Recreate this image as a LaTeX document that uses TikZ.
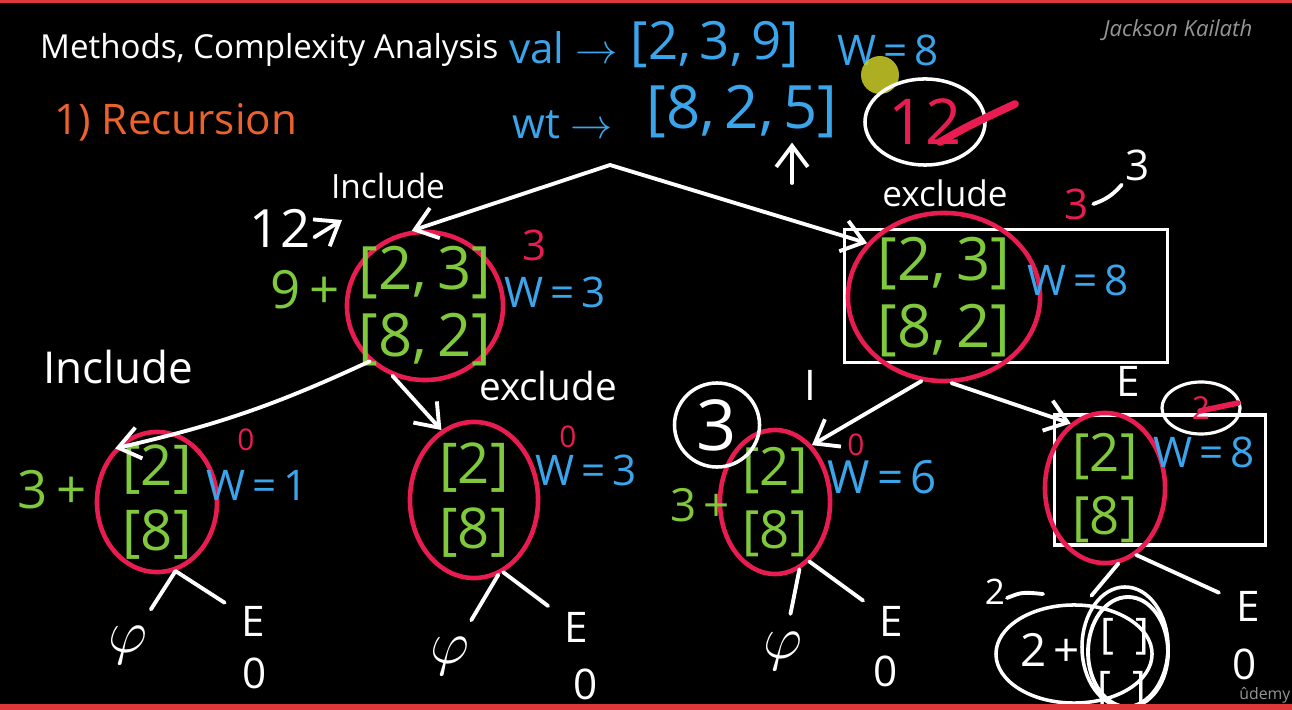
\documentclass[tikz,border=0pt]{standalone}
\usepackage{fontspec}
\setmainfont{Open Sans}
\usetikzlibrary{shapes.geometric,arrows.meta}

\definecolor{pinkred}{RGB}{232,28,80}
\definecolor{leafgreen}{RGB}{128,200,60}
\definecolor{inkblue}{RGB}{58,165,235}
\definecolor{chalkorange}{RGB}{236,98,44}
\definecolor{authorgrey}{RGB}{150,150,150}
\definecolor{barred}{RGB}{222,56,56}
\definecolor{cursor}{RGB}{205,205,40}

\newcommand{\hw}[2]{\fontsize{#1}{#2}\selectfont}

\tikzset{
  ink/.style={white, line width=1.1pt, line cap=round, line join=round},
  sub/.style={ellipse, draw=pinkred, line width=1.3pt, text=leafgreen, inner sep=-9pt, align=center},
  wlabel/.style={text=inkblue, inner sep=1pt, font=\hw{12}{12}},
  memo/.style={text=pinkred, inner sep=1pt, font=\hw{12}{12}},
  note/.style={text=white, inner sep=1pt},
  leaf/.style={text=white, inner sep=2pt, font=\hw{12}{12}},
  branch/.style={ink, shorten >=3pt},
}

\begin{document}
\begin{tikzpicture}[x=0.01cm, y=-0.01cm, >={Straight Barb[length=6pt, width=9pt]}]
    \useasboundingbox (0,0) rectangle (1292,710);
    % Board
    \fill[black] (0,0) rectangle (1292,710);

    % Heading
    \node[note, anchor=west, font=\hw{9.4}{11}] (title) at (36,50) {Methods, Complexity Analysis};
    \node[text=authorgrey, font=\hw{6.3}{7}\itshape] (author) at (1178,30) {Jackson Kailath};
    \node[text=chalkorange, anchor=west, font=\hw{12}{14}] (method) at (42,122) {1) Recursion};

    % Inputs
    \node[wlabel, anchor=west] (valtag) at (505,48) {val $\rightarrow$};
    \node[wlabel, font=\hw{15}{15}] (valarr) at (715,45) {[2,\,3,\,9]};
    \node[wlabel, anchor=west] (wttag) at (508,125) {wt $\rightarrow$};
    \node[wlabel, font=\hw{17}{17}] (wtarr) at (742,112) {[8,\,2,\,5]};
    \node[wlabel] (cap) at (888,50) {W\,=\,8};
    \coordinate (upfoot) at (792,183);
    \draw[ink, ->] (upfoot) -- (upfoot |- wtarr.south);
    \fill[cursor, opacity=0.85] (880,75) circle (19);

    % Best value so far
    \node[ellipse, draw=white, line width=1pt, text=pinkred, font=\hw{18}{18}, inner sep=0pt, minimum width=1.2cm, minimum height=0.86cm] (best) at (925,122) {12};
    \draw[pinkred, line width=2.2pt, line cap=round] (940,142) .. controls (968,126) .. (1015,104);

    % Recursion tree
    \coordinate (root) at (610,165);
    \node[draw=white, line width=1pt, minimum width=3.23cm, minimum height=1.33cm] (n2box) at (1006,296) {};
    \node[draw=white, line width=1pt, minimum width=2.11cm, minimum height=1.3cm] (n6box) at (1160,480) {};
    \node[sub, font=\hw{17}{19}, minimum width=1.56cm, minimum height=1.48cm] (n1) at (425,306) {{[2,\,3]}\\{[8,\,2]}};
    \node[sub, font=\hw{17}{19}, minimum width=1.92cm, minimum height=1.68cm] (n2) at (944,297) {{[2,\,3]}\\{[8,\,2]}};
    \node[sub, font=\hw{16}{18.5}, minimum width=1.2cm, minimum height=1.4cm] (n3) at (157,502) {{[2]}\\{[8]}};
    \node[sub, font=\hw{16}{18.5}, minimum width=1.28cm, minimum height=1.56cm] (n4) at (474,500) {{[2]}\\{[8]}};
    \node[sub, font=\hw{15}{18}, minimum width=1.1cm, minimum height=1.44cm] (n5) at (775,502) {{[2]}\\{[8]}};
    \node[sub, font=\hw{15}{18}, minimum width=1.2cm, minimum height=1.5cm] (n6) at (1105,488) {{[2]}\\{[8]}};

    \draw[ink, ->] (root) -- (n1.100);
    \draw[ink, ->] (root) -- (n2.145);
    \draw[ink, ->] (n1.225) to[bend left=6] (n3.128);
    \draw[ink, ->] (n1.245) -- (n4.115);
    \draw[ink, ->] (n2.255) -- (n5.57);
    \draw[ink, ->] (n2.275) -- (n6.118);

    % Level 1 notes
    \node[note, font=\hw{15}{15}] (n1best) at (280,228) {12};
    \node[note, font=\hw{9.5}{10}] (n1inc) at (388,186) {Include};
    \coordinate (n1incfoot) at (342,220);
    \draw[ink, ->] (n1best.-15) -- (n1incfoot);
    \node[text=leafgreen, font=\hw{15}{15}, inner sep=1pt] (n1plus) at (305,290) {9\,+};
    \node[wlabel] (n1w) at (555,292) {W\,=\,3};
    \node[memo] (n1memo) at (535,245) {3};

    \node[note, font=\hw{10}{10}] (n2exc) at (945,193) {exclude};
    \node[memo] (n2memo) at (1077,204) {3};
    \node[note, font=\hw{12}{12}] (n2note) at (1138,165) {3};
    \draw[ink] (n2memo.east) to[bend right=15] (n2note.south west);
    \node[wlabel] (n2w) at (1078,280) {W\,=\,8};

    % Level 2 notes
    \node[note, font=\hw{12.5}{13}] (n3inc) at (118,367) {Include};
    \node[text=leafgreen, font=\hw{15}{15}, inner sep=1pt] (n3plus) at (52,490) {3\,+};
    \node[wlabel] (n3w) at (257,485) {W\,=\,1};
    \node[memo, font=\hw{8.5}{9}] (n3memo) at (246,440) {0};

    \node[note, font=\hw{11}{11}] (n4exc) at (548,386) {exclude};
    \node[wlabel] (n4w) at (586,470) {W\,=\,3};
    \node[memo, font=\hw{8.5}{9}] (n4memo) at (568,437) {0};

    \node[note, font=\hw{12}{12}] (n5tag) at (810,385) {I};
    \node[ellipse, draw=white, line width=1pt, text=white, font=\hw{20}{20}, inner sep=0pt, minimum width=0.85cm, minimum height=0.84cm] (n5best) at (717,425) {3};
    \node[text=leafgreen, font=\hw{13}{13}, inner sep=1pt] (n5plus) at (700,505) {3\,+};
    \node[wlabel, font=\hw{13}{13}] (n5w) at (882,477) {W\,=\,6};
    \node[memo, font=\hw{8.5}{9}] (n5memo) at (856,445) {0};

    \node[note, font=\hw{12}{12}] (n6tag) at (1128,381) {E};
    \node[wlabel] (n6w) at (1204,452) {W\,=\,8};
    \node[ellipse, draw=white, line width=0.9pt, text=pinkred, font=\hw{9}{9}, inner sep=0pt, minimum width=0.78cm, minimum height=0.52cm] (n6best) at (1201,408) {2};
    \draw[pinkred, line width=1.6pt, line cap=round] (1200,411) -- (1238,403);

    % Leaves
    \node[leaf, font=\hw{17}{17}] (l3phi) at (128,645) {$\varphi$};
    \node[leaf] (l3e) at (253,621) {E};
    \node[leaf] (l3zero) at (255,673) {0};
    \draw[branch] (n3.285) -- (l3phi);
    \draw[branch] (n3.285) -- (l3e);

    \node[leaf, font=\hw{17}{17}] (l4phi) at (450,656) {$\varphi$};
    \node[leaf] (l4e) at (576,627) {E};
    \node[leaf] (l4zero) at (586,684) {0};
    \draw[branch] (n4.288) -- (l4phi);
    \draw[branch] (n4.292) -- (l4e);

    \node[leaf, font=\hw{17}{17}] (l5phi) at (783,651) {$\varphi$};
    \node[leaf] (l5e) at (891,621) {E};
    \node[leaf] (l5zero) at (886,671) {0};
    \draw[branch] (n5.290) -- (l5phi);
    \draw[branch] (n5.300) -- (l5e);

    \node[note, font=\hw{10}{10}] (l6memo) at (995,592) {2};
    \draw[ink] (1007,598) .. controls (1022,592) .. (1043,594);
    \node[ellipse, draw=white, line width=1pt, minimum width=1.56cm, minimum height=0.98cm] (l6sub) at (1074,654) {};
    \node[ellipse, draw=white, line width=1pt, minimum width=0.86cm, minimum height=1.2cm] (l6ring) at (1125,647) {};
    \draw[ink] (1128,652) ellipse [x radius=40, y radius=55];
    \node[note, font=\hw{13}{13}] (l6plus) at (1050,650) {2\,+};
    \node[note, font=\hw{12}{12}] (l6top) at (1125,637) {[\ \ ]};
    \node[note, font=\hw{12}{12}] (l6bot) at (1122,690) {[\ \ ]};
    \node[leaf] (l6e) at (1248,606) {E};
    \node[leaf] (l6zero) at (1245,664) {0};
    \draw[branch] (n6.280) -- (l6sub.78);
    \draw[branch] (n6.295) -- (l6e);

    % Frame bars
    \node[text=authorgrey, font=\hw{4.5}{5}, anchor=south east, inner sep=0pt] (brand) at (1291,704) {ûdemy};
    \fill[barred] (0,0) rectangle (1292,3);
    \fill[barred] (0,704) rectangle (1292,710);
\end{tikzpicture}
\end{document}
